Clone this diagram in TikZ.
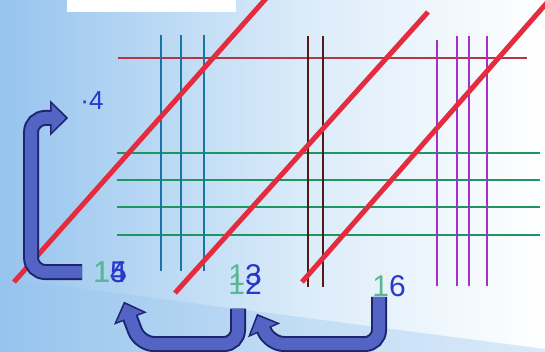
\documentclass[tikz,border=0pt]{standalone}
\usepackage{fontspec}
\setmainfont{Liberation Sans}
\usetikzlibrary{arrows.meta, positioning, calc}

\definecolor{bgblue}{RGB}{150,196,238}
\definecolor{bgmid}{RGB}{218,235,249}
\definecolor{cutred}{RGB}{228,44,62}
\definecolor{rowred}{RGB}{180,54,72}
\definecolor{tealline}{RGB}{24,118,164}
\definecolor{greenline}{RGB}{30,150,96}
\definecolor{brownline}{RGB}{84,26,26}
\definecolor{violetline}{RGB}{166,48,198}
\definecolor{digitblue}{RGB}{40,56,200}
\definecolor{digitgreen}{RGB}{88,184,148}
\definecolor{arrowfill}{RGB}{84,100,196}
\definecolor{arrowedge}{RGB}{30,36,110}

\begin{document}
\begin{tikzpicture}[
  x=1pt, y=-1pt,
  rowline/.style={line width=2.2pt},
  cutline/.style={cutred, line width=5pt},
  digit/.style={inner sep=0pt, text=digitblue, font=\fontsize{30}{30}\selectfont},
  smalldigit/.style={digit, font=\fontsize{26}{26}\selectfont},
  carryedge/.style={
    arrowedge, line width=16pt, rounded corners=14pt,
    -{Triangle[length=18pt,width=34pt]}
  },
  carryfill/.style={
    arrowfill, line width=12pt, rounded corners=14pt,
    shorten >=2.5pt, -{Triangle[length=14pt,width=27pt]}
  }
]
\useasboundingbox (0,0) rectangle (545,352);
\clip (0,0) rectangle (545,352);

% background
\shade[left color=bgblue, right color=bgmid] (0,0) rectangle (300,352);
\shade[left color=bgmid, right color=white] (300,0) rectangle (545,352);
\fill[bgblue, opacity=0.35] (0,278) -- (545,349) -- (545,352) -- (0,352) -- cycle;
\fill[white] (67,0) rectangle (236,12);

% lines of the numbers
\draw[rowred, rowline] (118,58) -- (527,58);
\foreach \y in {153,180,207,235}
  \draw[greenline, line width=2.5pt] (117,\y) -- (540,\y);
\foreach \x in {161,181,204}
  \draw[tealline, rowline] (\x,35) -- (\x,271);
\foreach \x in {308,323}
  \draw[brownline, rowline] (\x,36) -- (\x,287);
\foreach \x/\t in {437/40,457/36,469/36,487/36}
  \draw[violetline, rowline] (\x,\t) -- (\x,286);

% groups
\draw[cutline] (14,282) -- (270,-6);
\draw[cutline] (175,293) -- (428,12);
\draw[cutline] (302,282) -- (552,-3);

% digits
\node[smalldigit] (n4) at (92,101) {·4};
\node[digit] (n15) at (110,272) {\textcolor{digitgreen}{1}5};
\node[digit] (n14) at (110,272) {\textcolor{digitgreen}{1}4};
\node[digit] (n13) at (245,275) {\textcolor{digitgreen}{1}3};
\node[digit] (n12) at (245,284) {\textcolor{digitgreen}{1}2};
\node[digit] (n16) at (389,286) {\textcolor{digitgreen}{1}6};

\coordinate (mturn) at (140,344);
\coordinate (rturn) at (270,344);

% carries
\foreach \s in {carryedge,carryfill}{
  \draw[\s] ($(n15.west)+(-11,0)$) -- ++(-51,0) |- ($(n4.west)+(-12,17)$);
  \draw[\s] ($(n12.south)+(-7,14)$) |- (mturn) -- ($(n15.south)+(14,19)$);
  \draw[\s] ($(n16.south)+(-10,0)$) |- (rturn) -- ($(n13.south)+(12,28)$);
}
\end{tikzpicture}
\end{document}
